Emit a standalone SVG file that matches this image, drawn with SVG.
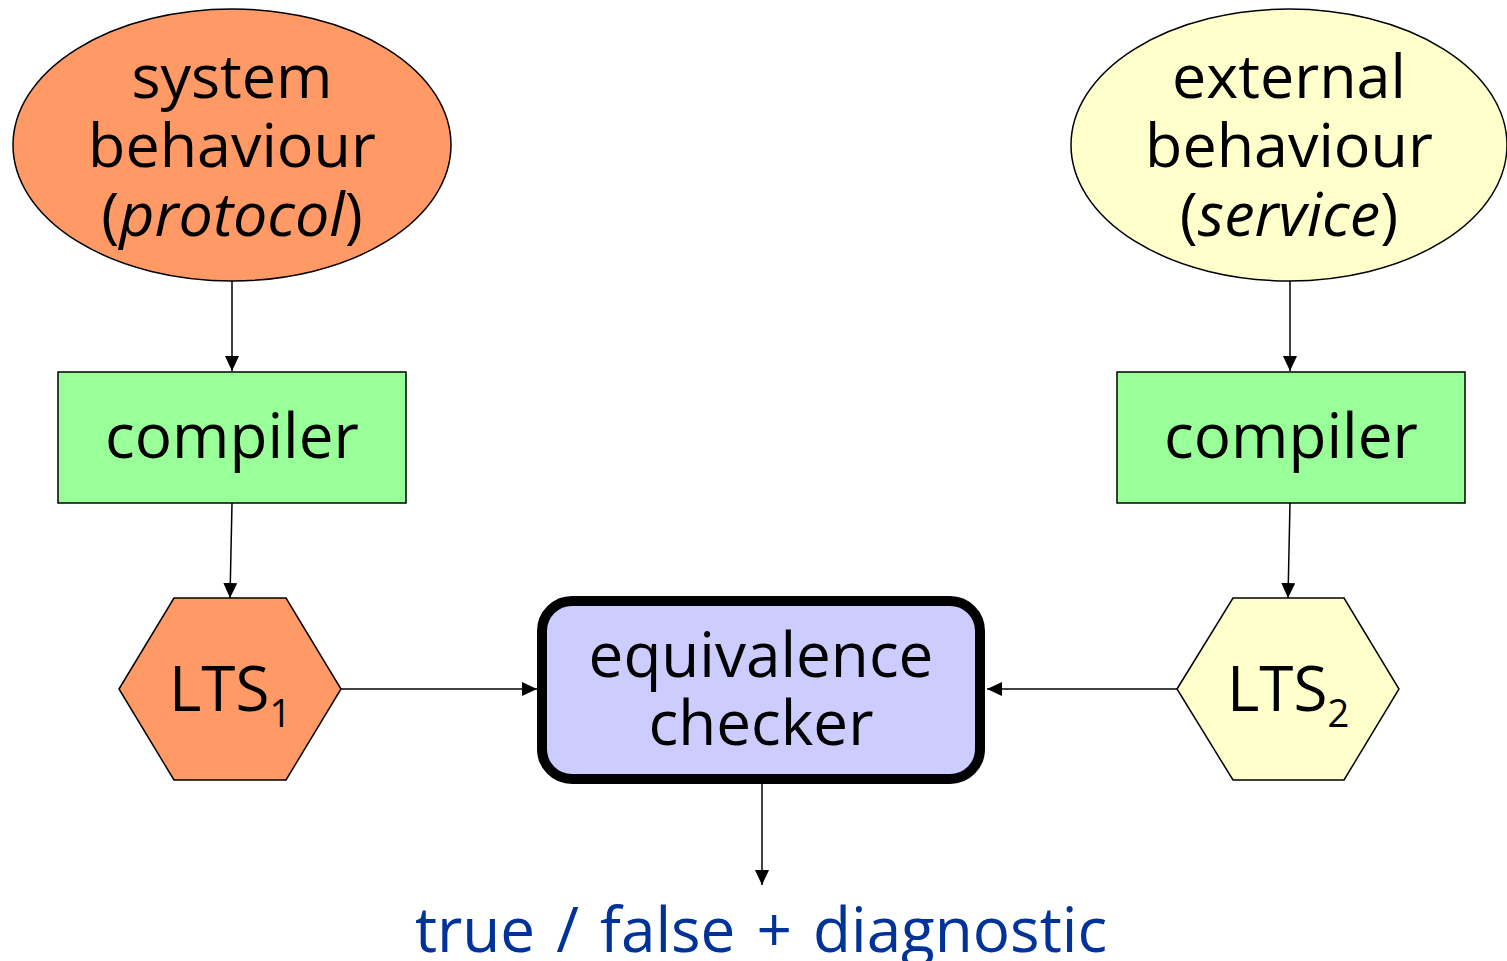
<svg xmlns="http://www.w3.org/2000/svg" width="1507" height="961" viewBox="0 0 1507 961">
  <style>
    .lbl { font-family: "Open Sans", "Noto Sans", "DejaVu Sans", sans-serif; font-size: 62px; fill: #000; text-anchor: middle; }
    .oval { font-size: 61px; }
    .shape { stroke: #000; stroke-width: 1.5; }
    .conn { stroke: #000; stroke-width: 1.5; fill: none; marker-end: url(#arrow); }
  </style>
  <defs>
    <marker id="arrow" viewBox="0 0 15 14" refX="15" refY="7" markerWidth="15" markerHeight="14" markerUnits="userSpaceOnUse" orient="auto">
      <path d="M0,0 L15,7 L0,14 Z" fill="#000"/>
    </marker>
  </defs>
  <rect width="1507" height="961" fill="#fff"/>

  <!-- connectors -->
  <g id="connectors">
    <line class="conn" x1="232" y1="281" x2="232" y2="371"/>
    <line class="conn" x1="232" y1="503" x2="230" y2="598"/>
    <line class="conn" x1="1290" y1="281" x2="1290" y2="371"/>
    <line class="conn" x1="1290" y1="503" x2="1288" y2="598"/>
    <line class="conn" x1="341" y1="689" x2="537" y2="689"/>
    <line class="conn" x1="1177" y1="689" x2="987" y2="689"/>
    <line class="conn" x1="762" y1="783" x2="762" y2="885"/>
  </g>

  <g id="system-behaviour">
    <ellipse class="shape" cx="232" cy="145" rx="219" ry="136" fill="#FF9966"/>
    <text class="lbl oval" x="232" y="98">system</text>
    <text class="lbl oval" x="232" y="167">behaviour</text>
    <text class="lbl oval" x="232" y="236">(<tspan font-style="italic">protocol</tspan>)</text>
  </g>

  <g id="external-behaviour">
    <ellipse class="shape" cx="1289" cy="145" rx="218" ry="136" fill="#FFFFCC"/>
    <text class="lbl oval" x="1289" y="98">external</text>
    <text class="lbl oval" x="1289" y="167">behaviour</text>
    <text class="lbl oval" x="1289" y="236">(<tspan font-style="italic">service</tspan>)</text>
  </g>

  <g id="compiler-1">
    <rect class="shape" x="58" y="372" width="348" height="131" fill="#99FF99"/>
    <text class="lbl" x="232" y="458">compiler</text>
  </g>

  <g id="compiler-2">
    <rect class="shape" x="1117" y="372" width="348" height="131" fill="#99FF99"/>
    <text class="lbl" x="1291" y="458">compiler</text>
  </g>

  <g id="lts-1">
    <polygon class="shape" points="119,689 174,598 286,598 341,689 286,780 174,780" fill="#FF9966"/>
    <text class="lbl" x="230" y="711">LTS<tspan font-size="38" dy="16">1</tspan></text>
  </g>

  <g id="lts-2">
    <polygon class="shape" points="1177,689 1233,598 1344,598 1399,689 1344,780 1233,780" fill="#FFFFCC"/>
    <text class="lbl" x="1288" y="711">LTS<tspan font-size="38" dy="16">2</tspan></text>
  </g>

  <g id="equivalence-checker">
    <rect x="542" y="601" width="438" height="178" rx="30" ry="30" fill="#CCCCFF" stroke="#000" stroke-width="10"/>
    <text class="lbl" x="761" y="677">equivalence</text>
    <text class="lbl" x="761" y="745">checker</text>
  </g>

  <g id="result">
    <text class="lbl" x="761" y="952" style="fill:#003399; word-spacing:5px">true / false + diagnostic</text>
  </g>
</svg>
